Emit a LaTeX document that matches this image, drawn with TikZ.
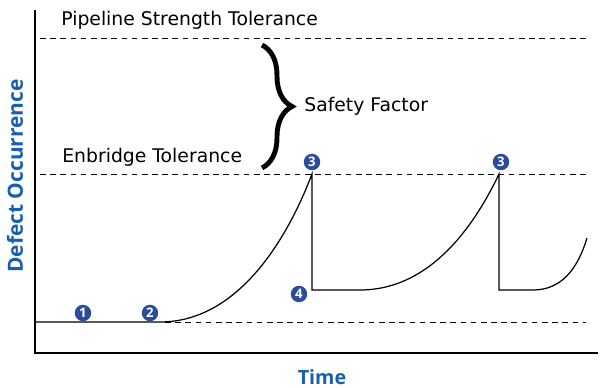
\documentclass[tikz,border=0pt]{standalone}
\usepackage{fontspec}
\setmainfont{Open Sans}
\newfontfamily\labelfont{DejaVu Sans}
\usetikzlibrary{decorations.pathreplacing}
\definecolor{axisblue}{RGB}{25,95,175}
\definecolor{markblue}{RGB}{45,75,155}
\tikzset{
	marker/.style={circle, fill=markblue, inner sep=0pt, minimum size=0.33cm, text=white, font=\fontsize{7.5}{8}\selectfont\bfseries},
	limit/.style={dashed, dash pattern=on 3.2pt off 2.6pt, line width=0.5pt},
	label/.style={font=\labelfont\fontsize{10.7}{12}\selectfont, anchor=west, inner sep=0pt},
	axislabel/.style={text=axisblue, inner sep=0pt}
}
\begin{document}
\begin{tikzpicture}[x=0.02cm, y=-0.02cm]
	\useasboundingbox (0,0) rectangle (600,388);
	\draw[line width=0.6pt] (35,10) -- (35,353) -- (598,353);
	\draw[limit] (40,38) -- (586,38);
	\draw[limit] (40,174) -- (586,174);
	\draw[limit] (165,322) -- (586,322);
	\node[label] (pst) at (61,20) {Pipeline Strength Tolerance};
	\node[label] (ebt) at (62,157) {Enbridge Tolerance};
	\draw[line width=2.8pt, decorate, decoration={brace, amplitude=0.6cm}] (262,45) -- (262,168);
	\node[label] (sf) at (304,106) {Safety Factor};
	\draw[line width=0.7pt] (35,322) -- (160,322) .. controls (235,322) and (285,245) .. (312,174) -- (312,290) -- (360,290) .. controls (425,290) and (470,235) .. (499,174) -- (499,290) -- (533,290) .. controls (562,290) and (578,268) .. (587,238);
	\node[marker] (m1) at (83,313) {1};
	\node[marker] (m2) at (150,313) {2};
	\node[marker] (m3a) at (312,162) {3};
	\node[marker] (m4) at (299,294) {4};
	\node[marker] (m3b) at (501,162) {3};
	\node[axislabel, rotate=90, font=\fontsize{11.9}{13}\selectfont\bfseries] (yl) at (15,176) {Defect Occurrence};
	\node[axislabel, font=\fontsize{11.2}{13}\selectfont\bfseries] (xl) at (322,377) {Time};
\end{tikzpicture}
\end{document}
